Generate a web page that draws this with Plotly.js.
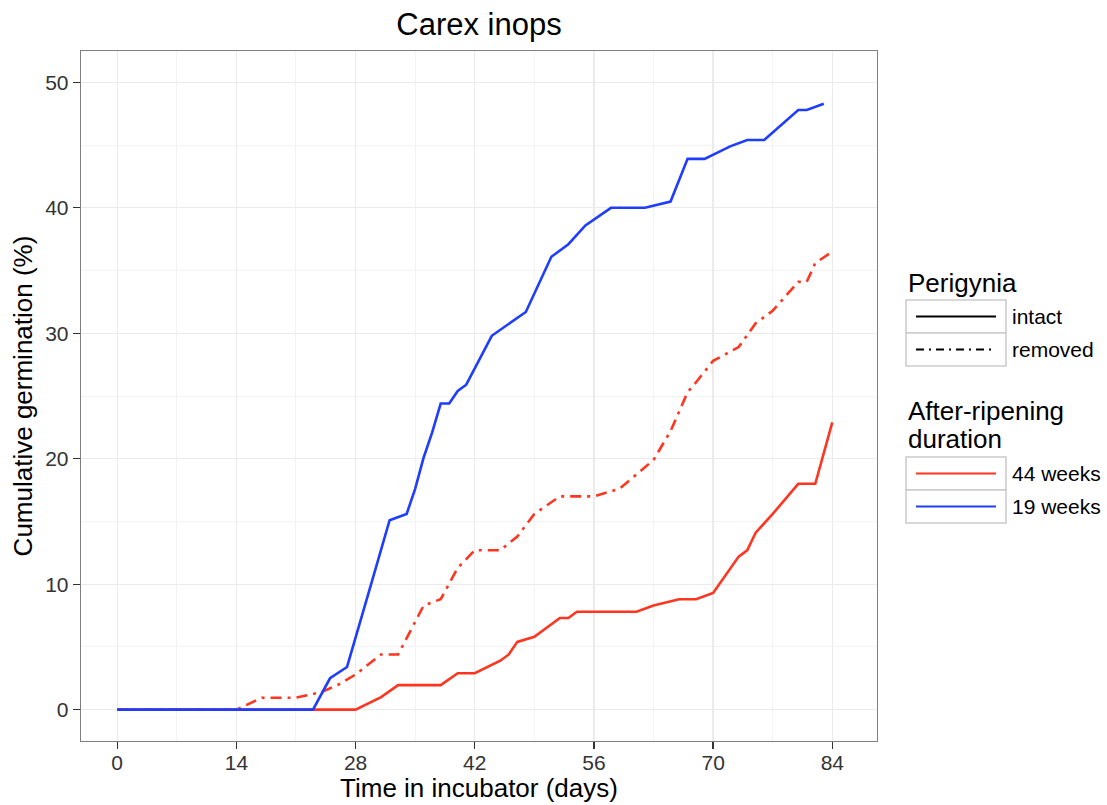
<!DOCTYPE html>
<html>
<head>
<meta charset="utf-8">
<script src="https://cdn.plot.ly/plotly-3.0.1.min.js"></script>
<style>html,body{margin:0;padding:0;background:#fff;}#chart{width:1107px;height:805px;}</style>
</head>
<body>
<div id="chart"></div>
<script>
// ---- data ----
const days_intact_44 = [0,28,31,33,38,40,42,45,46,47,49,52,53,54,61,63,66,68,70,73,74,75,77,80,82,84];
const germ_intact_44 = [0,0,1.0,1.95,1.95,2.9,2.9,3.9,4.4,5.4,5.8,7.3,7.3,7.8,7.8,8.3,8.8,8.8,9.3,12.2,12.7,14.1,15.6,18.0,18.0,22.9];

const days_removed_44 = [0,14,17,21,24,26,28,31,33,36,38,40,41,42,45,47,49,52,56,59,63,65,67,68,70,73,75,77,80,81,82,84];
const germ_removed_44 = [0,0,0.95,0.95,1.4,2.0,2.8,4.4,4.4,8.3,8.8,11.3,12.0,12.7,12.7,13.8,15.6,17.0,17.0,17.6,19.9,22.2,25.3,26.1,27.8,28.9,30.8,31.8,34.1,34.1,35.6,36.5];

const days_intact_19 = [0,23,25,27,30,32,34,35,36,37,38,39,40,41,44,48,51,53,55,58,62,65,67,69,72,74,76,80,81,83];
const germ_intact_19 = [0,0,2.5,3.4,10.4,15.1,15.6,17.6,20.1,22.1,24.4,24.4,25.4,25.9,29.8,31.7,36.1,37.1,38.6,40.0,40.0,40.5,43.9,43.9,44.9,45.4,45.4,47.8,47.8,48.3];

const xTicks = [0,14,28,42,56,70,84];
const xMinor = [7,21,35,49,63,77];
const yTicks = [0,10,20,30,40,50];
const yMinor = [5,15,25,35,45];

const perigyniaLabels = ["intact","removed"];
const durationLabels = ["44 weeks","19 weeks"];

const RED = "#ff3520";
const BLUE = "#1e3dff";
const FONT = "Liberation Sans, Arial, Helvetica, sans-serif";
const DASHDOT = "11px,6px,3px,6px";

const traces = [
  {x: days_removed_44, y: germ_removed_44, type: "scatter", mode: "lines",
   line: {color: RED, width: 2.6, dash: DASHDOT}, showlegend: false, name: "removed, 44 weeks"},
  {x: days_intact_44, y: germ_intact_44, type: "scatter", mode: "lines",
   line: {color: RED, width: 2.6}, showlegend: false, name: "intact, 44 weeks"},
  {x: days_intact_19, y: germ_intact_19, type: "scatter", mode: "lines",
   line: {color: BLUE, width: 2.6}, showlegend: false, name: "intact, 19 weeks"}
];

// ---- manual ggplot-style legend (pixel positions converted to paper units) ----
const M = {l: 81, r: 230, t: 51, b: 64};
const W = 1107, H = 805;
const pw = W - M.l - M.r, ph = H - M.t - M.b;
const px = v => (v - M.l) / pw;
const py = v => (H - M.b - v) / ph;

const shapes = [];
const annotations = [];
function keyBox(top, bottom, color, dash, label) {
  shapes.push({type: "rect", xref: "paper", yref: "paper", x0: px(906), x1: px(1006), y0: py(bottom), y1: py(top),
    line: {color: "#cccccc", width: 1.6}, fillcolor: "white", layer: "above"});
  const mid = (top + bottom) / 2;
  shapes.push({type: "line", xref: "paper", yref: "paper", x0: px(916), x1: px(996), y0: py(mid), y1: py(mid),
    line: {color: color, width: 2.2, dash: dash}, layer: "above"});
  annotations.push({xref: "paper", yref: "paper", x: px(1010), y: py(mid), xanchor: "left", yanchor: "middle",
    text: label, showarrow: false, font: {family: FONT, size: 21, color: "#000"}});
}
function legendTitle(text, yc) {
  annotations.push({xref: "paper", yref: "paper", x: px(906), y: py(yc), xanchor: "left", yanchor: "middle",
    text: text, showarrow: false, font: {family: FONT, size: 26, color: "#000"}});
}
legendTitle("Perigynia", 283);
keyBox(300, 333, "#000000", "solid", perigyniaLabels[0]);
keyBox(333, 366, "#000000", "8px,5px,2px,5px", perigyniaLabels[1]);
legendTitle("After-ripening", 411);
legendTitle("duration", 439);
keyBox(457, 490, RED, "solid", durationLabels[0]);
keyBox(490, 523, BLUE, "solid", durationLabels[1]);

const axisCommon = {
  ticks: "outside", ticklen: 7, tickwidth: 1.3, tickcolor: "#333333",
  tickfont: {family: FONT, size: 21, color: "#333333"},
  showgrid: true, gridcolor: "#ebebeb", gridwidth: 1.3,
  zeroline: false, showline: true, mirror: true, linecolor: "#7f7f7f", linewidth: 1.3
};

const layout = {
  width: W, height: H, margin: M,
  paper_bgcolor: "white", plot_bgcolor: "white",
  font: {family: FONT, color: "#000"},
  title: {text: "Carex inops", font: {family: FONT, size: 31, color: "#000"},
    x: 0.5, xref: "paper", xanchor: "center", y: 1 - 24 / H, yref: "container", yanchor: "middle"},
  xaxis: Object.assign({}, axisCommon, {
    range: [-4.25, 89.25], tickmode: "array", tickvals: xTicks, ticktext: xTicks.map(String),
    ticklabelstandoff: -5,
    minor: {tickmode: "array", tickvals: xMinor, showgrid: true, gridcolor: "#f0f0f0", gridwidth: 0.8, ticks: ""},
    title: {text: "Time in incubator (days)", font: {family: FONT, size: 26, color: "#000"}, standoff: 2}
  }),
  yaxis: Object.assign({}, axisCommon, {
    range: [-2.5, 52.5], tickmode: "array", tickvals: yTicks, ticktext: yTicks.map(String),
    minor: {tickmode: "array", tickvals: yMinor, showgrid: true, gridcolor: "#f0f0f0", gridwidth: 0.8, ticks: ""},
    title: {text: "Cumulative germination (%)", font: {family: FONT, size: 26, color: "#000"}, standoff: 5}
  }),
  showlegend: false,
  shapes: shapes,
  annotations: annotations
};

Plotly.newPlot("chart", traces, layout, {displayModeBar: false, staticPlot: true});
</script>
</body>
</html>
